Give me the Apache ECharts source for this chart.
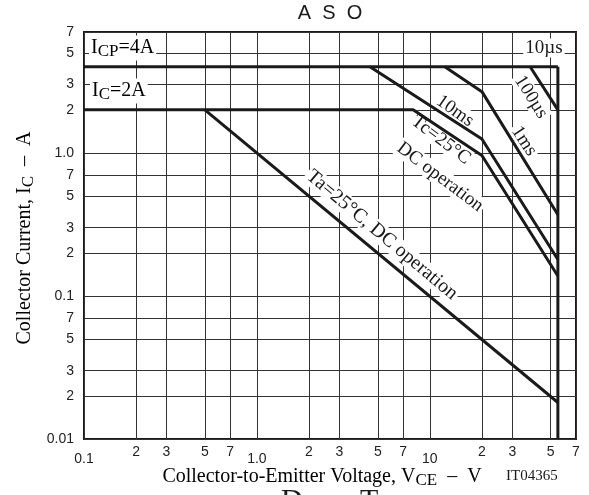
<!DOCTYPE html>
<html>
<head>
<meta charset="utf-8">
<script src="https://cdn.jsdelivr.net/npm/echarts@6.0.0/dist/echarts.min.js"></script>
<style>
  html, body { margin: 0; padding: 0; background: #fff; }
  #chart { width: 589px; height: 495px; }
</style>
</head>
<body>
<div id="chart"></div>
<script>
// axis ticks (log scale, 1-2-3-5-7 grid)
const xTicks = [0.1, 0.2, 0.3, 0.5, 0.7, 1, 2, 3, 5, 7, 10, 20, 30, 50, 70]
const xTickLabels = ['0.1', '2', '3', '5', '7', '1.0', '2', '3', '5', '7', '10', '2', '3', '5', '7']
const yTicks = [0.01, 0.02, 0.03, 0.05, 0.07, 0.1, 0.2, 0.3, 0.5, 0.7, 1, 2, 3, 5, 7]
const yTickLabels = ['0.01', '2', '3', '5', '7', '0.1', '2', '3', '5', '7', '1.0', '2', '3', '5', '7']

// safe operating area limits [VCE (V), IC (A)]
const icpLimit = [[0.1, 4], [55, 4]]
const vceLimit = [[55, 4], [55, 0.01]]
const pulse100us = [[38, 4], [55, 2.0]]
const pulse1ms = [[12.2, 4], [20, 2.68], [55, 0.37]]
const pulse10ms = [[4.5, 4], [20, 1.25], [55, 0.18]]
const tcDC = [[0.1, 2], [8, 2], [20, 0.96], [55, 0.138]]
const taDC = [[0.5, 2], [55, 0.018]]

const SERIF = '"Liberation Serif", "Times New Roman", serif'
const SANS = '"Liberation Sans", Arial, sans-serif'
const INK = '#1a1a1a'

function tickLabel(ticks, labels, v) {
  const i = ticks.findIndex(t => Math.abs(Math.log10(t) - Math.log10(v)) < 1e-6)
  return i < 0 ? '' : labels[i]
}
function isDecade(v) {
  const l = Math.log10(v)
  return Math.abs(l - Math.round(l)) < 1e-6
}

const chart = echarts.init(document.getElementById('chart'))

const limitLine = data => ({
  type: 'line',
  data: data,
  symbol: 'none',
  silent: true,
  lineStyle: { color: INK, width: 3 }
})

// rich text for serif labels with subscripts
const serifRich = size => ({
  m: { fontFamily: SERIF, fontSize: size, color: INK },
  s: { fontFamily: SERIF, fontSize: size - 3, color: INK, padding: [8, 0, 0, 0] }
})

const note = (text, x, y, deg, size) => ({
  type: 'text',
  x: x,
  y: y,
  rotation: -deg * Math.PI / 180,
  z: 1,
  style: {
    text: text,
    font: (size || 19) + 'px ' + SERIF,
    fill: INK,
    align: 'center',
    verticalAlign: 'middle',
    backgroundColor: '#fff',
    padding: [0, 2]
  }
})

chart.setOption({
  animation: false,
  grid: {
    left: 84,
    right: 13,
    top: 32,
    bottom: 56,
    show: true,
    borderColor: INK,
    borderWidth: 2,
    backgroundColor: 'transparent'
  },
  xAxis: {
    type: 'log',
    min: 0.1,
    max: 70,
    axisLine: { show: false },
    axisTick: { show: false, customValues: xTicks },
    splitLine: { show: true, lineStyle: { color: '#333', width: 1 } },
    axisLabel: {
      customValues: xTicks,
      margin: 6,
      formatter: v => {
        const t = tickLabel(xTicks, xTickLabels, v)
        return isDecade(v) ? '{d|' + t + '}' : '{m|' + t + '}'
      },
      rich: {
        m: { fontFamily: SANS, fontSize: 14, color: '#222' },
        d: { fontFamily: SANS, fontSize: 14, color: '#222', padding: [7, 0, 0, 0] }
      }
    }
  },
  yAxis: {
    type: 'log',
    min: 0.01,
    max: 7,
    axisLine: { show: false },
    axisTick: { show: false, customValues: yTicks },
    splitLine: { show: true, lineStyle: { color: '#333', width: 1 } },
    axisLabel: {
      customValues: yTicks,
      margin: 10,
      fontFamily: SANS,
      fontSize: 14,
      color: '#222',
      formatter: v => tickLabel(yTicks, yTickLabels, v)
    }
  },
  series: [
    limitLine(icpLimit),
    limitLine(vceLimit),
    limitLine(pulse100us),
    limitLine(pulse1ms),
    limitLine(pulse10ms),
    limitLine(tcDC),
    limitLine(taDC)
  ],
  graphic: [
    {
      type: 'text', x: 330, y: 13,
      style: { text: 'A  S  O', font: '20px ' + SANS, fill: INK, align: 'center', verticalAlign: 'middle' }
    },
    {
      type: 'text', x: 25, y: 238, rotation: Math.PI / 2,
      style: {
        text: '{m|Collector Current, I}{s|C}{m|  –  A}',
        rich: serifRich(20), align: 'center', verticalAlign: 'middle'
      }
    },
    {
      type: 'text', x: 322, y: 477,
      style: {
        text: '{m|Collector-to-Emitter Voltage, V}{s|CE}{m|  –  V}',
        rich: serifRich(20), align: 'center', verticalAlign: 'middle'
      }
    },
    {
      type: 'text', x: 506, y: 476,
      style: { text: 'IT04365', font: '15px ' + SERIF, fill: INK, align: 'left', verticalAlign: 'middle' }
    },
    // top of the next heading, cut by the page edge
    {
      type: 'text', x: 281, y: 486,
      style: { text: 'D', font: '30px ' + SERIF, fill: INK, align: 'left', verticalAlign: 'top' }
    },
    {
      type: 'text', x: 360, y: 486,
      style: { text: 'T', font: '30px ' + SERIF, fill: INK, align: 'left', verticalAlign: 'top' }
    },
    {
      type: 'text', x: 89, y: 48, z: 1,
      style: {
        text: '{m|I}{s|CP}{m|=4A}', rich: serifRich(20),
        align: 'left', verticalAlign: 'middle', backgroundColor: '#fff', padding: [0, 2]
      }
    },
    {
      type: 'text', x: 90, y: 91, z: 1,
      style: {
        text: '{m|I}{s|C}{m|=2A}', rich: serifRich(20),
        align: 'left', verticalAlign: 'middle', backgroundColor: '#fff', padding: [0, 2]
      }
    },
    note('10µs', 544, 48, 0),
    note('100µs', 531, 97, 58),
    note('1ms', 524, 141, 57),
    note('10ms', 455, 111, 35),
    note('Tc=25°C', 441, 140, 37),
    note('DC operation', 440, 177, 37),
    note('Ta=25°C, DC operation', 382, 235, 40, 20)
  ]
})
</script>
</body>
</html>
